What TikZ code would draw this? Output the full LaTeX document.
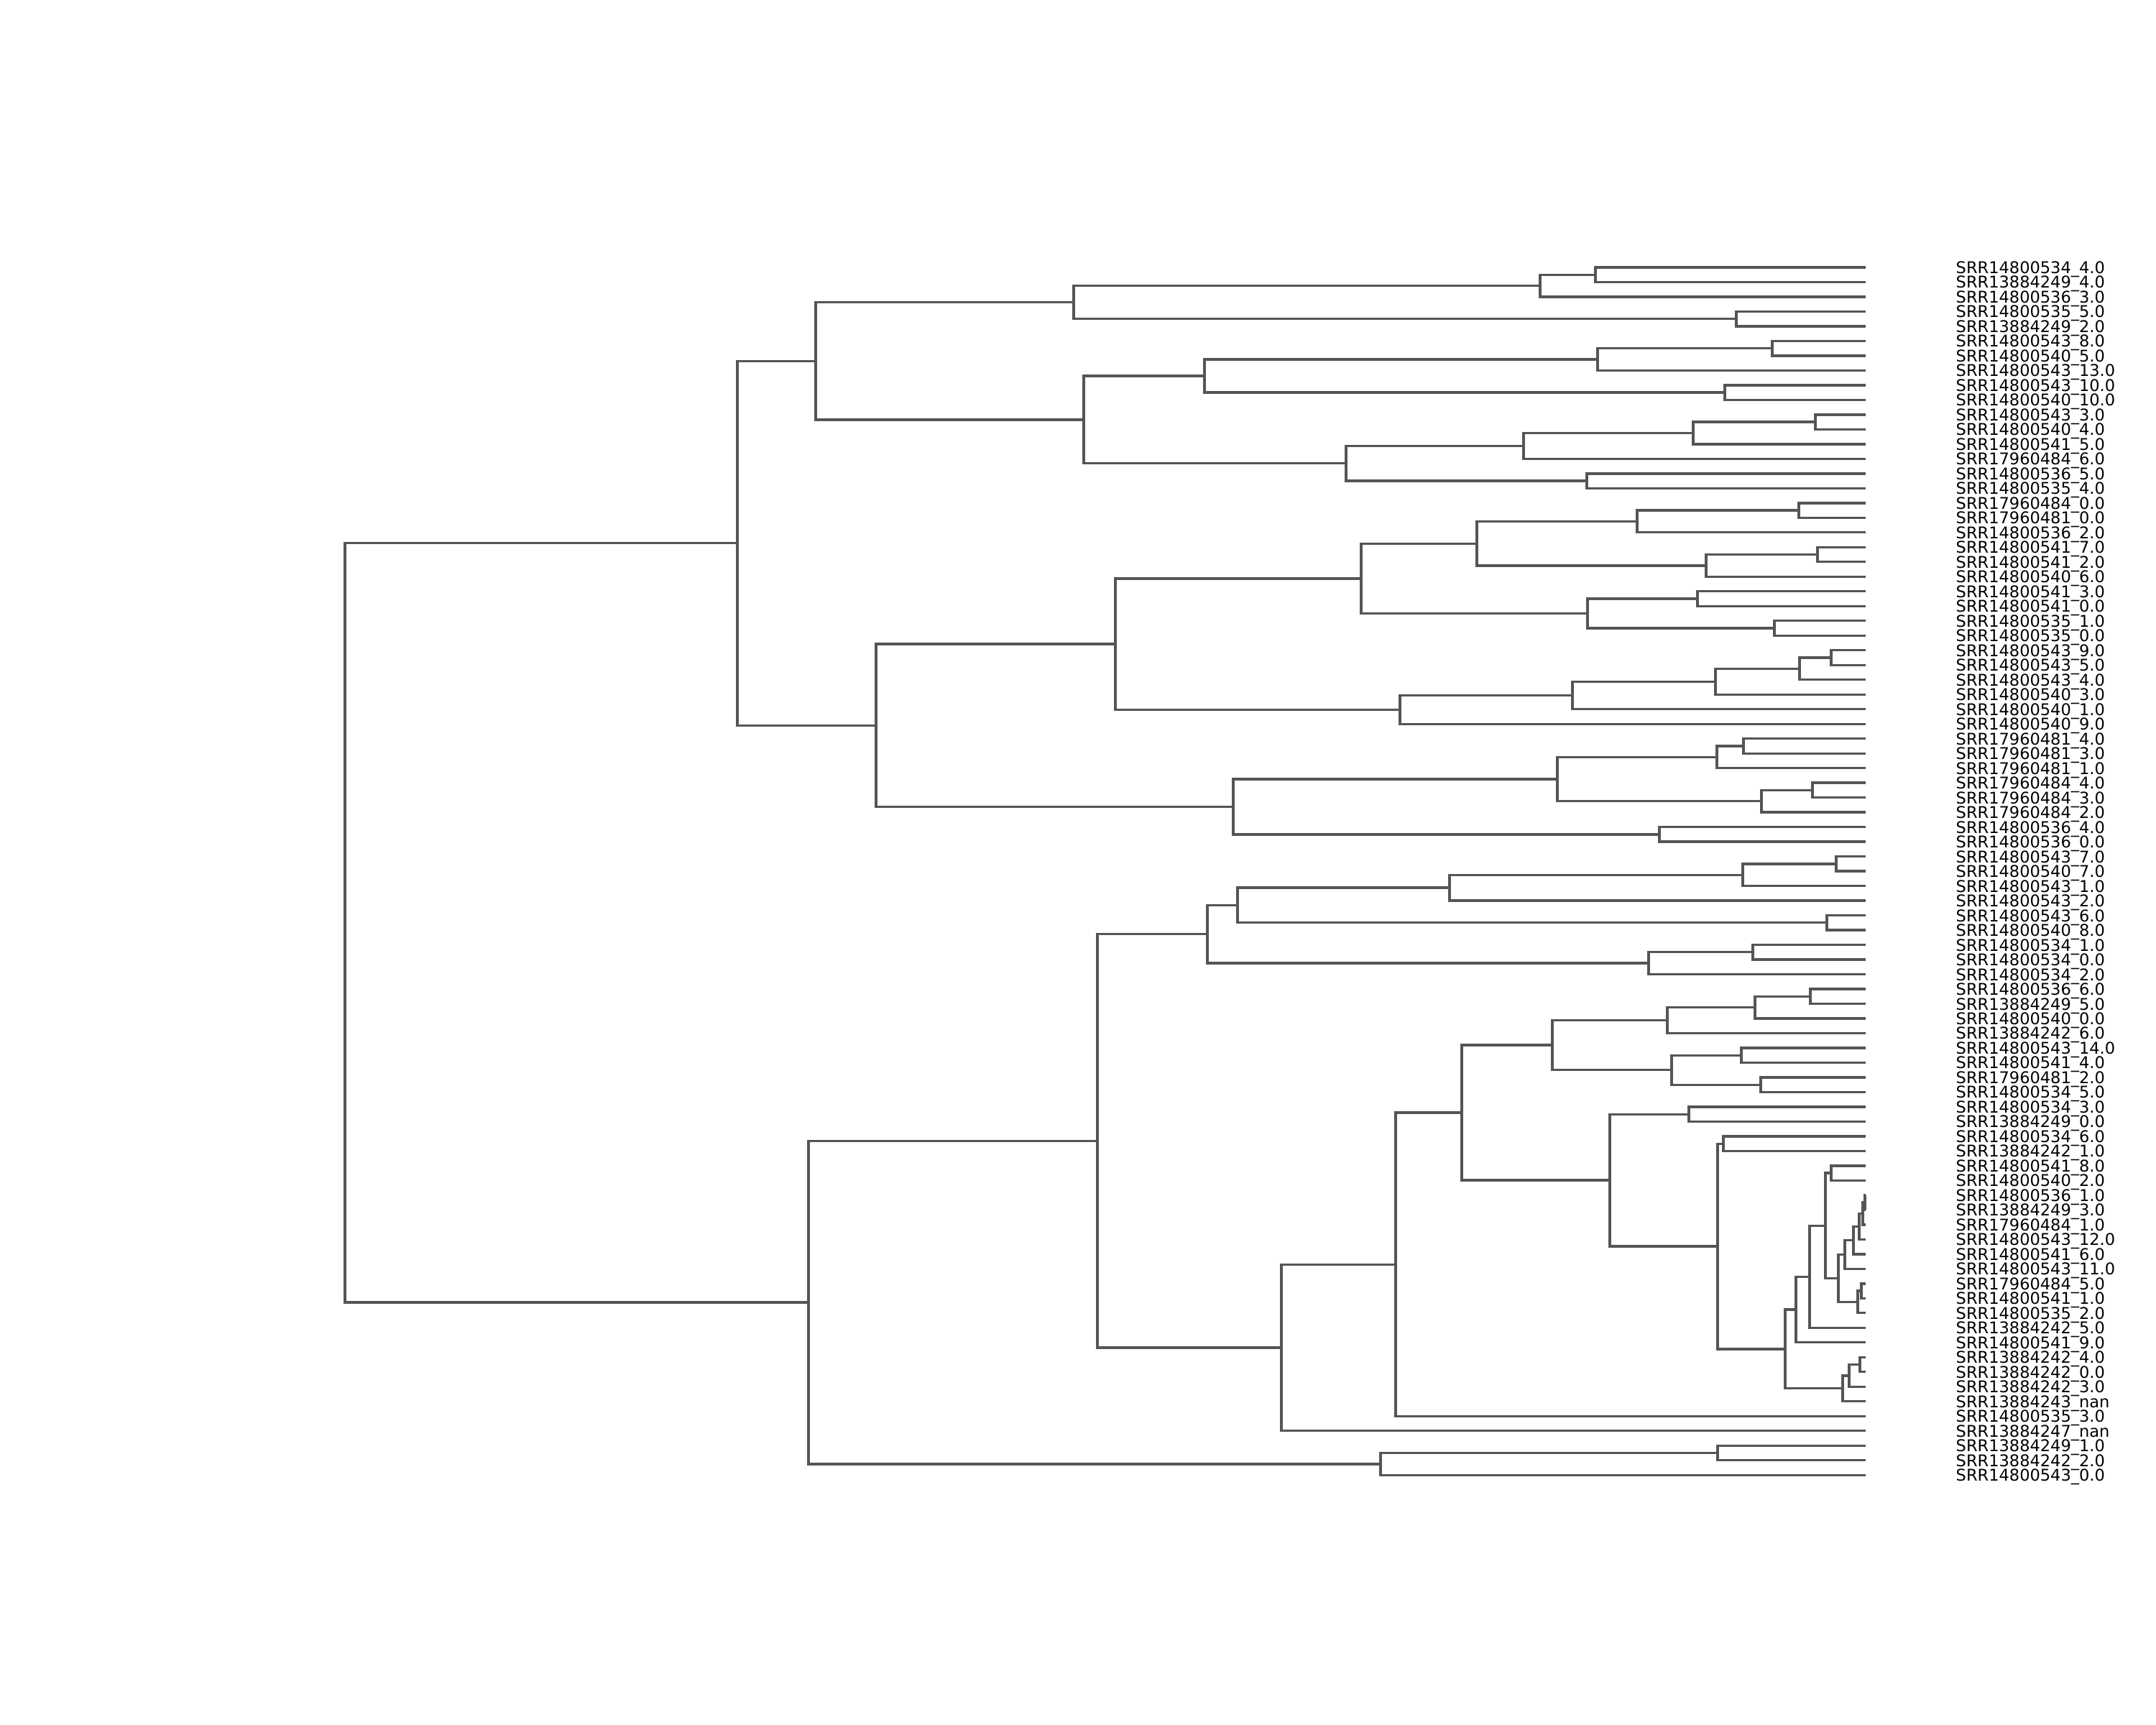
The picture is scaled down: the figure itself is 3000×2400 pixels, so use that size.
\documentclass[tikz,border=0pt]{standalone}
\usepackage{fontspec}
\setmainfont{DejaVu Sans}
\usetikzlibrary{calc}
\definecolor{linkgray}{HTML}{555555}
\newcommand{\dmerge}[4]{%
  \path let \p1=(#2), \p2=(#3), \p3=(#4,0) in coordinate (#1) at (\x3,{0.5*(\y1+\y2)});
  \draw[link] (#2) -| (#1) |- (#3);}

\begin{document}
\begin{tikzpicture}[x=0.01cm,y=-0.01cm,
  link/.style={draw=linkgray,line width=0.95pt},
  leaf/.style={anchor=base west,inner sep=0pt,font=\fontsize{6.4pt}{7pt}\selectfont}]
\useasboundingbox (0,0) rectangle (3000,2400);
% leaves and their labels
\foreach \lab [count=\i] in {SRR14800534\_4.0,SRR13884249\_4.0,SRR14800536\_3.0,SRR14800535\_5.0,
  SRR13884249\_2.0,SRR14800543\_8.0,SRR14800540\_5.0,SRR14800543\_13.0,SRR14800543\_10.0,
  SRR14800540\_10.0,SRR14800543\_3.0,SRR14800540\_4.0,SRR14800541\_5.0,SRR17960484\_6.0,
  SRR14800536\_5.0,SRR14800535\_4.0,SRR17960484\_0.0,SRR17960481\_0.0,SRR14800536\_2.0,
  SRR14800541\_7.0,SRR14800541\_2.0,SRR14800540\_6.0,SRR14800541\_3.0,SRR14800541\_0.0,
  SRR14800535\_1.0,SRR14800535\_0.0,SRR14800543\_9.0,SRR14800543\_5.0,SRR14800543\_4.0,
  SRR14800540\_3.0,SRR14800540\_1.0,SRR14800540\_9.0,SRR17960481\_4.0,SRR17960481\_3.0,
  SRR17960481\_1.0,SRR17960484\_4.0,SRR17960484\_3.0,SRR17960484\_2.0,SRR14800536\_4.0,
  SRR14800536\_0.0,SRR14800543\_7.0,SRR14800540\_7.0,SRR14800543\_1.0,SRR14800543\_2.0,
  SRR14800543\_6.0,SRR14800540\_8.0,SRR14800534\_1.0,SRR14800534\_0.0,SRR14800534\_2.0,
  SRR14800536\_6.0,SRR13884249\_5.0,SRR14800540\_0.0,SRR13884242\_6.0,SRR14800543\_14.0,
  SRR14800541\_4.0,SRR17960481\_2.0,SRR14800534\_5.0,SRR14800534\_3.0,SRR13884249\_0.0,
  SRR14800534\_6.0,SRR13884242\_1.0,SRR14800541\_8.0,SRR14800540\_2.0,SRR14800536\_1.0,
  SRR13884249\_3.0,SRR17960484\_1.0,SRR14800543\_12.0,SRR14800541\_6.0,SRR14800543\_11.0,
  SRR17960484\_5.0,SRR14800541\_1.0,SRR14800535\_2.0,SRR13884242\_5.0,SRR14800541\_9.0,
  SRR13884242\_4.0,SRR13884242\_0.0,SRR13884242\_3.0,SRR13884243\_nan,SRR14800535\_3.0,
  SRR13884247\_nan,SRR13884249\_1.0,SRR13884242\_2.0,SRR14800543\_0.0}{
  \coordinate (l\i) at (2596,{372+(\i-1)*20.49});
  \node[leaf] (t\i) at (2721,{380.5+(\i-1)*20.49}) {\lab};
}
% upper block
\dmerge{a1}{l1}{l2}{2220} \dmerge{a2}{a1}{l3}{2143} \dmerge{a3}{l4}{l5}{2416}
\dmerge{a4}{a2}{a3}{1494}
\dmerge{a5}{l6}{l7}{2466} \dmerge{a6}{a5}{l8}{2223} \dmerge{a7}{l9}{l10}{2400}
\dmerge{a8}{a6}{a7}{1676}
\dmerge{a9}{l11}{l12}{2526} \dmerge{a10}{a9}{l13}{2356} \dmerge{a11}{a10}{l14}{2120}
\dmerge{a12}{l15}{l16}{2208} \dmerge{a13}{a11}{a12}{1873}
\dmerge{a14}{a8}{a13}{1508} \dmerge{a15}{a4}{a14}{1135}
\dmerge{b1}{l17}{l18}{2503} \dmerge{b2}{b1}{l19}{2278}
\dmerge{b3}{l20}{l21}{2529} \dmerge{b4}{b3}{l22}{2374} \dmerge{b5}{b2}{b4}{2055}
\dmerge{b6}{l23}{l24}{2362} \dmerge{b7}{l25}{l26}{2469} \dmerge{b8}{b6}{b7}{2209}
\dmerge{b9}{b5}{b8}{1894}
\dmerge{b10}{l27}{l28}{2548} \dmerge{b11}{b10}{l29}{2504} \dmerge{b12}{b11}{l30}{2387}
\dmerge{b13}{b12}{l31}{2188} \dmerge{b14}{b13}{l32}{1948}
\dmerge{b15}{b9}{b14}{1552}
\dmerge{b16}{l33}{l34}{2426} \dmerge{b17}{b16}{l35}{2389}
\dmerge{b18}{l36}{l37}{2522} \dmerge{b19}{b18}{l38}{2451} \dmerge{b20}{b17}{b19}{2167}
\dmerge{b21}{l39}{l40}{2309} \dmerge{b22}{b20}{b21}{1716}
\dmerge{b23}{b15}{b22}{1219} \dmerge{b24}{a15}{b23}{1026}
% lower block
\dmerge{c1}{l41}{l42}{2555} \dmerge{c2}{c1}{l43}{2425} \dmerge{c3}{c2}{l44}{2017}
\dmerge{c4}{l45}{l46}{2542} \dmerge{c5}{c3}{c4}{1722}
\dmerge{c6}{l47}{l48}{2439} \dmerge{c7}{c6}{l49}{2294} \dmerge{c8}{c5}{c7}{1680}
\dmerge{d1}{l50}{l51}{2519} \dmerge{d2}{d1}{l52}{2442} \dmerge{d3}{d2}{l53}{2320}
\dmerge{d4}{l54}{l55}{2423} \dmerge{d5}{l56}{l57}{2450} \dmerge{d6}{d4}{d5}{2326}
\dmerge{d7}{d3}{d6}{2160} \dmerge{d8}{l58}{l59}{2350}
\dmerge{e1}{l60}{l61}{2398} \dmerge{e2}{l62}{l63}{2548}
\dmerge{e3}{l64}{l65}{2595} \dmerge{e4}{e3}{l66}{2592} \dmerge{e5}{e4}{l67}{2587}
\dmerge{e6}{e5}{l68}{2579} \dmerge{e7}{e6}{l69}{2567}
\dmerge{e8}{l70}{l71}{2590} \dmerge{e9}{e8}{l72}{2585} \dmerge{e10}{e7}{e9}{2558}
\dmerge{e11}{e2}{e10}{2540} \dmerge{e12}{e11}{l73}{2518} \dmerge{e13}{e12}{l74}{2499}
\dmerge{e14}{l75}{l76}{2588} \dmerge{e15}{e14}{l77}{2573} \dmerge{e16}{e15}{l78}{2564}
\dmerge{e17}{e13}{e16}{2484} \dmerge{e18}{e1}{e17}{2390} \dmerge{e19}{d8}{e18}{2240}
\dmerge{d9}{d7}{e19}{2034} \dmerge{d10}{d9}{l79}{1942} \dmerge{d11}{d10}{l80}{1783}
\dmerge{f1}{c8}{d11}{1527}
\dmerge{g1}{l81}{l82}{2390} \dmerge{g2}{g1}{l83}{1921}
\dmerge{h1}{f1}{g2}{1125}
% root
\dmerge{root}{b24}{h1}{480}
\end{tikzpicture}
\end{document}
